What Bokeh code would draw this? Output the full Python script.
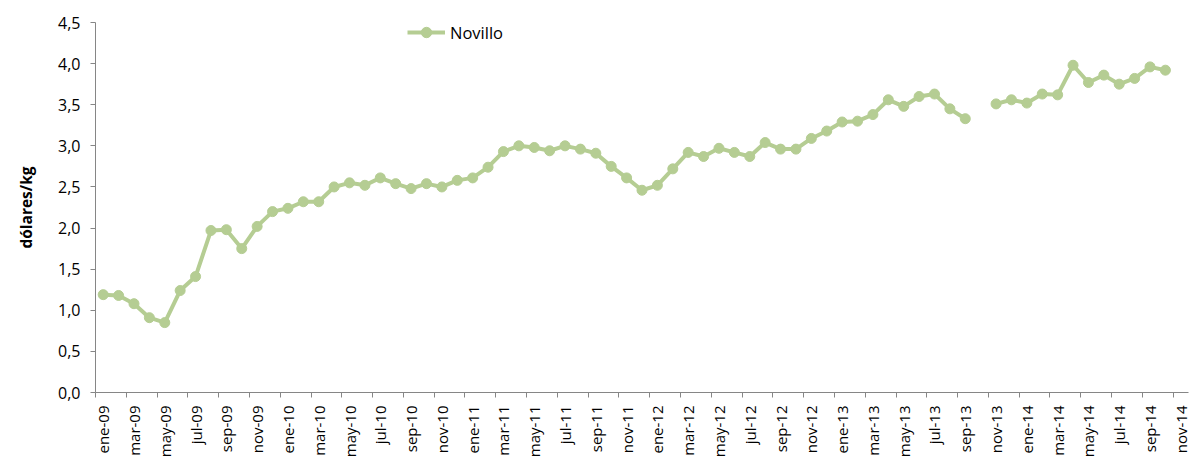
import math
import numpy as np
from bokeh.plotting import figure
from bokeh.models import Range1d, FixedTicker, Legend, LegendItem
from bokeh.embed import file_html
from bokeh.resources import INLINE

# ---- data ----
month_names = ["ene", "feb", "mar", "abr", "may", "jun", "jul", "ago", "sep", "oct", "nov", "dic"]
years = ["09", "10", "11", "12", "13", "14"]
months = [f"{m}-{y}" for y in years for m in month_names][:71]  # ene-09 .. nov-14

novillo = [
    1.19, 1.18, 1.08, 0.91, 0.85, 1.24, 1.41, 1.97, 1.98, 1.75, 2.02, 2.20,
    2.24, 2.32, 2.32, 2.50, 2.55, 2.52, 2.61, 2.54, 2.48, 2.54, 2.50, 2.58,
    2.61, 2.74, 2.93, 3.00, 2.98, 2.94, 3.00, 2.96, 2.91, 2.75, 2.61, 2.46,
    2.52, 2.72, 2.92, 2.87, 2.97, 2.92, 2.87, 3.04, 2.96, 2.96, 3.09, 3.18,
    3.29, 3.30, 3.38, 3.56, 3.48, 3.60, 3.63, 3.45, 3.33, None, 3.51, 3.56,
    3.52, 3.63, 3.62, 3.98, 3.77, 3.86, 3.75, 3.82, 3.96, 3.92,
]
y_ticks = [0.0, 0.5, 1.0, 1.5, 2.0, 2.5, 3.0, 3.5, 4.0, 4.5]
y_tick_labels = ["0,0", "0,5", "1,0", "1,5", "2,0", "2,5", "3,0", "3,5", "4,0", "4,5"]

# ---- derived ----
n = len(months)
xs = [i + 0.5 for i in range(len(novillo))]
ys = [np.nan if v is None else v for v in novillo]

GREEN = "#b5cd93"
AXIS = "#868686"
FONT = "Open Sans"

p = figure(width=1192, height=464, output_backend="svg", toolbar_location=None,
           x_range=Range1d(0, n), y_range=Range1d(0, 4.5),
           min_border_left=95, min_border_right=4, min_border_top=22, min_border_bottom=72)
p.outline_line_color = None
p.xgrid.visible = False
p.ygrid.visible = False

ln = p.line(xs, ys, line_color=GREEN, line_width=4)
sc = p.scatter(xs, ys, size=10, fill_color=GREEN, line_color=GREEN)

# x axis: labels at category centres every 2 months, tick marks at boundaries
label_pos = [i + 0.5 for i in range(0, n, 2)]
boundaries = [float(i) for i in range(0, n + 1, 2)]
p.xaxis.ticker = FixedTicker(ticks=label_pos, minor_ticks=boundaries)
p.xaxis.major_label_overrides = {i + 0.5: months[i] for i in range(0, n, 2)}
p.xaxis.major_label_orientation = math.pi / 2
p.xaxis.major_tick_out = 0
p.xaxis.major_tick_in = 0
p.xaxis.minor_tick_out = 5
p.xaxis.minor_tick_in = 0
p.xaxis.minor_tick_line_color = AXIS
p.xaxis.axis_line_color = AXIS
p.xaxis.major_label_text_font = FONT
p.xaxis.major_label_text_font_size = "15px"
p.xaxis.major_label_text_color = "#000000"
p.xaxis.major_label_standoff = 8

# y axis
p.yaxis.ticker = FixedTicker(ticks=y_ticks, minor_ticks=[])
p.yaxis.major_label_overrides = dict(zip(y_ticks, y_tick_labels))
p.yaxis.major_tick_out = 5
p.yaxis.major_tick_in = 0
p.yaxis.major_tick_line_color = AXIS
p.yaxis.axis_line_color = AXIS
p.yaxis.major_label_text_font = FONT
p.yaxis.major_label_text_font_size = "16px"
p.yaxis.major_label_text_color = "#000000"
p.yaxis.major_label_standoff = 10
p.yaxis.axis_label = "dólares/kg"
p.yaxis.axis_label_text_font = FONT
p.yaxis.axis_label_text_font_style = "bold"
p.yaxis.axis_label_text_font_size = "15.5px"
p.yaxis.axis_label_text_color = "#000000"
p.yaxis.axis_label_standoff = 18

legend = Legend(items=[LegendItem(label="Novillo", renderers=[ln, sc])],
                location=(312, 347), orientation="horizontal",
                border_line_color=None, background_fill_alpha=0,
                padding=0, margin=0, spacing=0,
                glyph_width=38, glyph_height=26, label_height=26, label_width=80,
                label_standoff=5,
                label_text_font=FONT, label_text_font_size="16.5px", label_text_color="#000000")
p.add_layout(legend, "center")

open("out.html", "w").write(file_html(p, INLINE))
